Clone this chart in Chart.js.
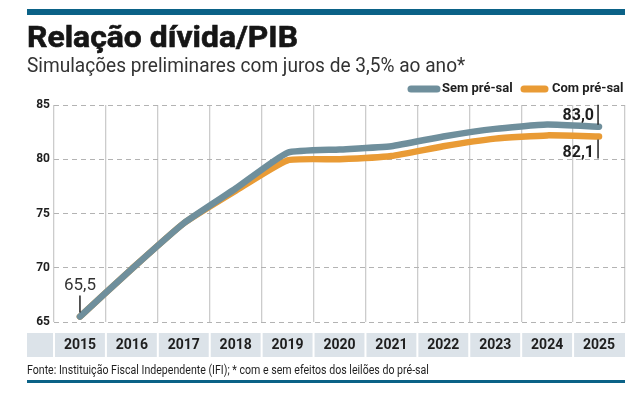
<!DOCTYPE html>
<html>
<head>
<meta charset="utf-8">
<script src="https://cdn.jsdelivr.net/npm/chart.js@4.4.1/dist/chart.umd.min.js"></script>
<style>
  body { margin: 0; background: #fff; }
  #wrap { position: relative; width: 638px; height: 393px; overflow: hidden; font-family: Roboto, sans-serif; }
  .bar { position: absolute; left: 27px; width: 598px; background: #0b6287; }
  .txt { position: absolute; left: 27px; white-space: nowrap; transform-origin: 0 0; line-height: 1; }
  #title { top: 22px; font-size: 30px; font-weight: bold; color: #161616; -webkit-text-stroke: 0.6px #161616; }
  #sub { top: 55px; font-size: 21px; color: #333; }
  #src { top: 364px; font-size: 12px; color: #1e1e1e; }
  canvas { position: absolute; left: 0; top: 0; }
</style>
</head>
<body>
<div id="wrap">
  <canvas id="chart" width="638" height="393"></canvas>
  <div class="bar" style="top:9px;height:6px"></div>
  <div class="txt" id="title" data-w="271">Relação dívida/PIB</div>
  <div class="txt" id="sub" data-w="438">Simulações preliminares com juros de 3,5% ao ano*</div>
  <div class="txt" id="src" data-w="402">Fonte: Instituição Fiscal Independente (IFI); * com e sem efeitos dos leilões do pré-sal</div>
  <div class="bar" style="top:380px;height:3px"></div>
</div>
<script>
// data
const years = ['2015', '2016', '2017', '2018', '2019', '2020', '2021', '2022', '2023', '2024', '2025'];
const semPreSal = [65.5, 69.9, 74.1, 77.3, 80.6, 80.9, 81.2, 82.1, 82.8, 83.2, 83.0];
const comPreSal = [65.5, 69.9, 74.1, 77.1, 79.9, 80.0, 80.3, 81.2, 81.9, 82.2, 82.1];
const yTicks = [65, 70, 75, 80, 85];
const seriesNames = ['Sem pré-sal', 'Com pré-sal'];
const seriesColors = ['#6f8f9c', '#e99b35'];

// squeeze the heading texts to the reference widths
document.querySelectorAll('.txt').forEach(el => {
  const w = +el.dataset.w;
  el.style.transform = 'scaleX(' + (w / el.offsetWidth) + ')';
});

const fmt = v => v.toFixed(1).replace('.', ',');

// grey band behind the year labels
const bandPlugin = {
  id: 'band',
  beforeDraw(chart) {
    const { ctx, chartArea, scales } = chart;
    const xs = scales.x;
    const top = 333, h = 24;
    ctx.save();
    ctx.fillStyle = '#dce3e9';
    ctx.fillRect(27, top, chartArea.right - 27, h);
    ctx.fillStyle = '#fff';
    const half = (xs.getPixelForValue(1) - xs.getPixelForValue(0)) / 2;
    for (let i = 0; i < years.length; i++) {
      const x = xs.getPixelForValue(i) - half;
      ctx.fillRect(x - 1, top, 2, h);
    }
    ctx.restore();
  }
};

// legend top right
const legendPlugin = {
  id: 'miniLegend',
  afterDraw(chart) {
    const { ctx } = chart;
    const items = [[411, 437, 442], [524, 545, 552]];
    ctx.save();
    ctx.font = 'bold 13px Roboto';
    ctx.textBaseline = 'middle';
    items.forEach((it, i) => {
      ctx.strokeStyle = seriesColors[i];
      ctx.lineWidth = 7;
      ctx.lineCap = 'round';
      ctx.beginPath();
      ctx.moveTo(it[0], 89);
      ctx.lineTo(it[1], 89);
      ctx.stroke();
      ctx.fillStyle = '#1e1e1e';
      ctx.fillText(seriesNames[i], it[2], 89);
    });
    ctx.restore();
  }
};

// value labels with small tick marks
const labelPlugin = {
  id: 'valueLabels',
  afterDatasetsDraw(chart) {
    const { ctx, scales } = chart;
    const xs = scales.x, ys = scales.y;
    const last = years.length - 1;
    ctx.save();
    ctx.strokeStyle = '#222';
    ctx.lineWidth = 1.5;
    ctx.fillStyle = '#222';

    // first point
    let x = xs.getPixelForValue(0), y = ys.getPixelForValue(semPreSal[0]);
    ctx.beginPath(); ctx.moveTo(x, y - 4); ctx.lineTo(x, y - 21); ctx.stroke();
    ctx.font = '17px Roboto';
    ctx.textAlign = 'center';
    ctx.fillStyle = '#333';
    ctx.fillText(fmt(semPreSal[0]), x, y - 27);

    // last points
    ctx.fillStyle = '#1e1e1e';
    ctx.font = 'bold 16px Roboto';
    ctx.textAlign = 'right';
    x = xs.getPixelForValue(last);
    y = ys.getPixelForValue(semPreSal[last]);
    ctx.beginPath(); ctx.moveTo(x - 1, y - 2); ctx.lineTo(x - 1, y - 22); ctx.stroke();
    ctx.fillText(fmt(semPreSal[last]), x - 5, y - 7);
    y = ys.getPixelForValue(comPreSal[last]);
    ctx.beginPath(); ctx.moveTo(x - 1, y + 3); ctx.lineTo(x - 1, y + 22); ctx.stroke();
    ctx.fillText(fmt(comPreSal[last]), x - 5, y + 21);
    ctx.restore();
  }
};

const ctx = document.getElementById('chart').getContext('2d');
new Chart(ctx, {
  type: 'line',
  data: {
    labels: years,
    datasets: [
      {
        label: seriesNames[0],
        data: semPreSal,
        borderColor: seriesColors[0],
        borderWidth: 6.5,
        pointRadius: 0,
        tension: 0.15,
        borderCapStyle: 'round',
        borderJoinStyle: 'round',
        clip: false
      },
      {
        label: seriesNames[1],
        data: comPreSal,
        borderColor: seriesColors[1],
        borderWidth: 6.5,
        pointRadius: 0,
        tension: 0.15,
        borderCapStyle: 'round',
        borderJoinStyle: 'round',
        clip: false
      }
    ]
  },
  options: {
    responsive: false,
    animation: false,
    devicePixelRatio: 1,
    layout: { padding: { left: 27, right: 13, top: 105, bottom: 35 } },
    plugins: {
      legend: { display: false },
      tooltip: { enabled: false }
    },
    scales: {
      x: {
        offset: true,
        grid: { offset: true, color: '#cccccc', lineWidth: 1.3, drawTicks: false },
        border: { display: false },
        ticks: { font: { family: 'Roboto', size: 14, weight: 'bold' }, color: '#1e1e1e', padding: 15, maxRotation: 0 },
        afterFit(s) { s.height = 36; }
      },
      y: {
        min: 65,
        max: 85,
        afterBuildTicks(s) { s.ticks = yTicks.map(v => ({ value: v })); },
        grid: { color: '#b3b3b3', lineWidth: 1, drawTicks: false },
        border: { display: false, dash: [5, 4] },
        ticks: { font: { family: 'Roboto', size: 12, weight: 'bold' }, color: '#1e1e1e', padding: 4 },
        afterFit(s) { s.width = 27; }
      }
    }
  },
  plugins: [bandPlugin, legendPlugin, labelPlugin]
});
</script>
</body>
</html>
